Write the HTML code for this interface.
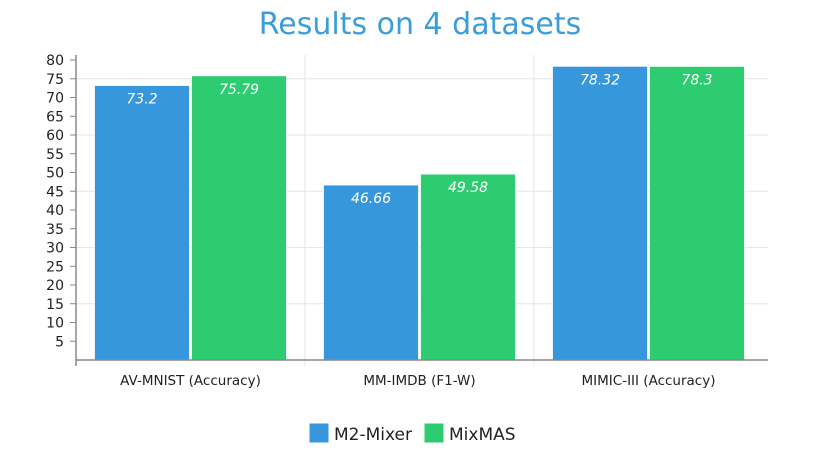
<!DOCTYPE html>
<html><head><meta charset="utf-8"><style>
body{margin:0;background:#fff;width:824px;height:452px;overflow:hidden;font-family:"DejaVu Sans","Liberation Sans",sans-serif}
</style></head><body>
<svg width="824" height="452">
<text x="420" y="34" text-anchor="middle" font-size="30" fill="#3b9ddb">Results on 4 datasets</text>
<g id="grid"></g><g id="bars"></g><g id="axes"></g>
<g>
<rect x="309" y="423" width="20" height="20" fill="#3797dc" stroke="#fff"/>
<text x="334" y="440" font-size="17" fill="#222">M2-Mixer</text>
<rect x="424" y="423" width="20" height="20" fill="#2ecc71" stroke="#fff"/>
<text x="449" y="440" font-size="17" fill="#222">MixMAS</text>
</g>
</svg>
<script>
const categories=["AV-MNIST (Accuracy)","MM-IMDB (F1-W)","MIMIC-III (Accuracy)"];
const m2mixer=[73.2,46.66,78.32];
const mixmas=[75.79,49.58,78.3];
const yTicks=[5,10,15,20,25,30,35,40,45,50,55,60,65,70,75,80];
const NS="http://www.w3.org/2000/svg";
const X0=76,X1=763,Y0=360,Y80=60;
const y=v=>Y0-(v/80)*(Y0-Y80);
const gw=(X1-X0)/categories.length;
function mk(t,a,p){const e=document.createElementNS(NS,t);for(const k in a)e.setAttribute(k,a[k]);p.appendChild(e);return e;}
const grid=document.getElementById('grid'),bars=document.getElementById('bars'),axes=document.getElementById('axes');
yTicks.forEach(v=>{
 if(v%15===0){const l=mk('line',{x1:X0,x2:768,y1:y(v),y2:y(v),stroke:'#e6e6e6'},grid);
 
 }
 const t=mk('line',{x1:70,x2:X0,y1:y(v),y2:y(v),stroke:'#888'},axes);
 
 
 const tx=mk('text',{x:64,y:y(v)+5,'text-anchor':'end','font-size':14,fill:'#222'},axes);tx.textContent=v;
 
 
});
categories.forEach((c,i)=>{
 const gx=X0+gw*i;
 if(i>0){const l=mk('line',{x1:gx,x2:gx,y1:55,y2:366,stroke:'#e6e6e6'},grid);
 
 }
 const cx=gx+gw/2;
 [[m2mixer[i],'#3797dc',cx-96,'m2-mixer'],[mixmas[i],'#2ecc71',cx+1,'mixmas']].forEach(([v,col,bx,nm])=>{
  const r=mk('rect',{x:bx,y:y(v),width:95,height:Y0-y(v),fill:col,stroke:'#fff','stroke-width':0.8},bars);
  
  
  const t=mk('text',{x:bx+47.5,y:y(v)+18,'text-anchor':'middle','font-size':14,'font-style':'italic',fill:'#fff'},bars);t.textContent=v;
  
  
 });
 const lb=mk('text',{x:cx,y:385,'text-anchor':'middle','font-size':13.5,fill:'#222'},axes);lb.textContent=c;
 
 
});
const ya=mk('line',{x1:X0,x2:X0,y1:55,y2:366,stroke:'#888','stroke-width':1.5},axes);


const xa=mk('line',{x1:X0,x2:768,y1:Y0,y2:Y0,stroke:'#888','stroke-width':1.5},axes);


</script>
</body></html>
